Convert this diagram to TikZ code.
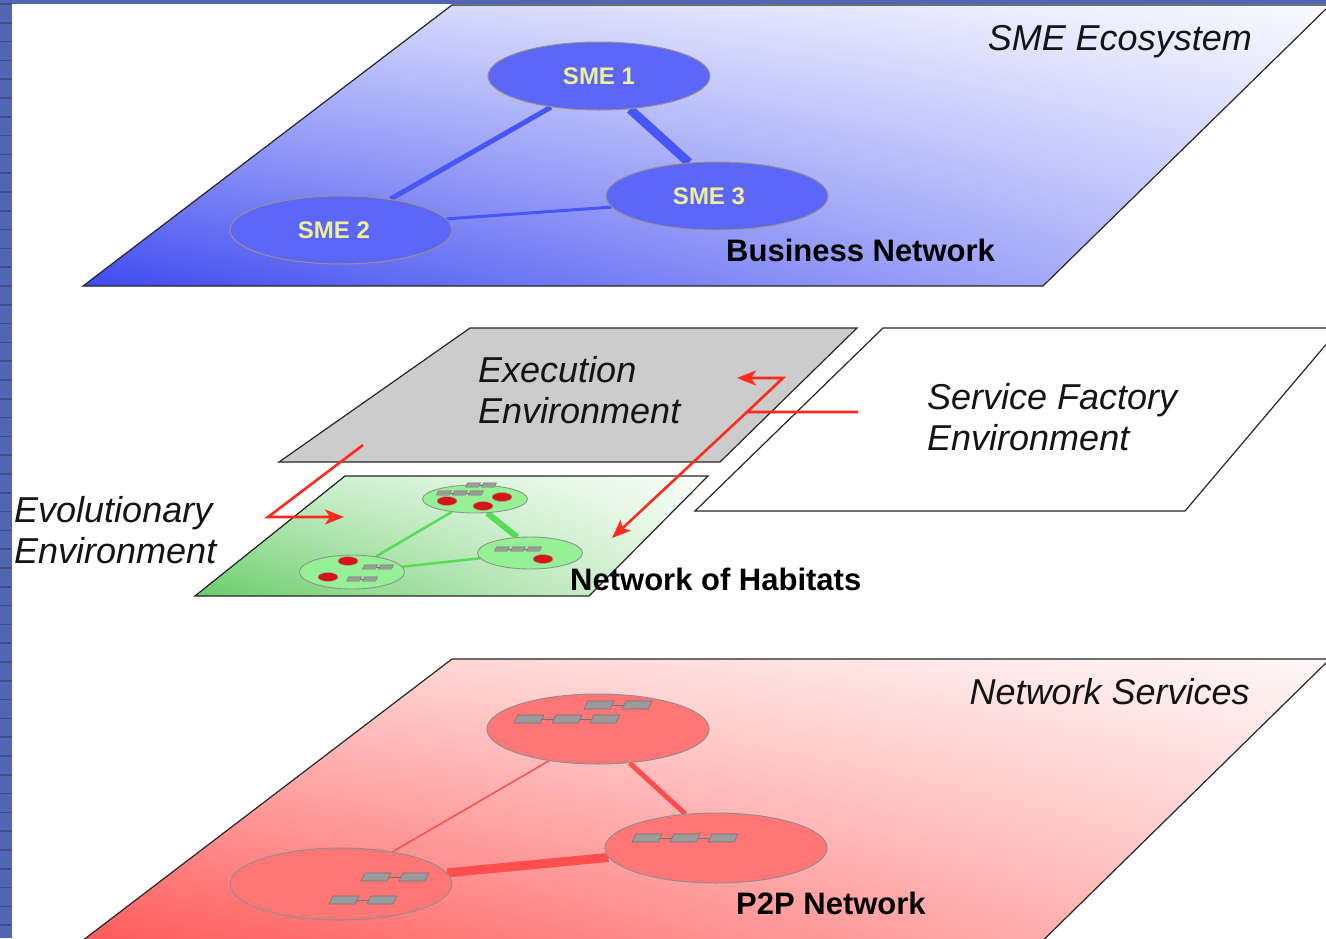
\documentclass[tikz,border=0pt]{standalone}
\usepackage{fontspec}
\setmainfont{Liberation Sans}
\usetikzlibrary{shapes.geometric,arrows.meta,shadings}
\pgfdeclarelayer{planes}
\pgfdeclarelayer{links}
\pgfsetlayers{planes,links,main}

\definecolor{stripblue}{RGB}{80,102,180}
\definecolor{stripline}{RGB}{70,78,125}
\definecolor{smefill}{RGB}{92,102,250}
\definecolor{smeedge}{RGB}{150,145,140}
\definecolor{smelink}{RGB}{72,86,246}
\definecolor{smetext}{RGB}{240,240,150}
\definecolor{peerfill}{RGB}{255,118,118}
\definecolor{peeredge}{RGB}{150,140,140}
\definecolor{peerlink}{RGB}{255,78,78}
\definecolor{habfill}{RGB}{150,240,150}
\definecolor{habedge}{RGB}{140,150,140}
\definecolor{hablink}{RGB}{85,222,85}
\definecolor{celldot}{RGB}{214,22,22}
\definecolor{srvfill}{RGB}{155,155,155}
\definecolor{srvedge}{RGB}{115,115,115}
\definecolor{flowred}{RGB}{255,42,30}
\definecolor{execgray}{RGB}{204,204,204}
% plane gradient corners
\definecolor{bluell}{RGB}{62,74,240}
\definecolor{bluelr}{RGB}{190,194,250}
\definecolor{blueul}{RGB}{200,204,252}
\definecolor{blueur}{RGB}{250,250,255}
\definecolor{greenll}{RGB}{105,205,105}
\definecolor{greenlr}{RGB}{225,245,225}
\definecolor{greenul}{RGB}{195,236,195}
\definecolor{greenur}{RGB}{248,253,248}
\definecolor{redll}{RGB}{255,80,80}
\definecolor{redlr}{RGB}{255,192,192}
\definecolor{redul}{RGB}{255,200,200}
\definecolor{redur}{RGB}{255,248,248}

% one file-server glyph, large and small
\tikzset{
  bigsrv/.pic={\filldraw[fill=srvfill,draw=srvedge,line width=0.6pt]
      (-11,-4) -- (15,-4) -- (11,4) -- (-15,4) -- cycle;},
  smallsrv/.pic={\filldraw[fill=srvfill,draw=srvedge,line width=0.4pt]
      (-5.5,-2.2) -- (7.5,-2.2) -- (5.5,2.2) -- (-7.5,2.2) -- cycle;},
}
% a row of linked servers: first centre x, y, count
\newcommand\bigrow[3]{%
  \draw[srvedge,line width=1pt] (#1,#2) -- ({#1+38*(#3-1)},#2);
  \foreach \i in {1,...,#3} \pic at ({#1+38*(\i-1)},#2) {bigsrv};}
\newcommand\smallrow[3]{%
  \draw[srvedge,line width=0.6pt] (#1,#2) -- ({#1+16*(#3-1)},#2);
  \foreach \i in {1,...,#3} \pic at ({#1+16*(\i-1)},#2) {smallsrv};}

\begin{document}
\begin{tikzpicture}[x=1pt,y=-1pt,
  sheet/.style={draw=black!85,line width=1.2pt},
  sme/.style={ellipse,draw=smeedge,line width=1pt,fill=smefill,
    minimum width=222pt,minimum height=68pt,inner sep=0pt,text=smetext,
    font=\bfseries\fontsize{24}{24}\selectfont},
  peer/.style={ellipse,draw=peeredge,line width=1pt,fill=peerfill,
    minimum width=222pt,minimum height=70pt,inner sep=0pt},
  hab/.style={ellipse,draw=habedge,line width=0.9pt,fill=habfill,
    minimum width=105pt,minimum height=30pt,inner sep=0pt},
  cell/.style={ellipse,draw=gray!70,line width=0.5pt,fill=celldot,
    minimum width=20pt,minimum height=9pt,inner sep=0pt},
  lbl/.style={font=\itshape\fontsize{36}{36}\selectfont,text=black!92,inner sep=0pt},
  netlbl/.style={font=\bfseries\fontsize{31}{31}\selectfont,text=black,inner sep=0pt},
  redflow/.style={draw=flowred,line width=2.6pt},
  tipr/.style={-{Stealth[length=19pt,width=15pt,inset=5pt]}},
]
\useasboundingbox (0,0) rectangle (1326,938);

% ---------- the four planes ----------
\begin{pgfonlayer}{planes}
  \fill[white] (0,0) rectangle (1326,938);
  % SME ecosystem
  \shade[lower left=bluell,lower right=bluelr,upper left=blueul,upper right=blueur]
    (83,286) -- (452,5) -- (1330,5) -- (1043,286) -- cycle;
  \draw[sheet] (83,286) -- (452,5) -- (1330,5) -- (1043,286) -- cycle;
  % execution environment
  \fill[execgray] (279,462) -- (470,328) -- (857,328) -- (720,462) -- cycle;
  \draw[sheet] (279,462) -- (470,328) -- (857,328) -- (720,462) -- cycle;
  % service factory environment
  \draw[sheet] (695,511) -- (883,328) -- (1340,328) -- (1185,511) -- cycle;
  % evolutionary environment
  \shade[lower left=greenll,lower right=greenlr,upper left=greenul,upper right=greenur]
    (195,596) -- (345,476) -- (708,476) -- (589,596) -- cycle;
  \draw[sheet] (195,596) -- (345,476) -- (708,476) -- (589,596) -- cycle;
  % network services (runs past the lower edge)
  \shade[lower left=redll,lower right=redlr,upper left=redul,upper right=redur]
    (57,960) -- (452,659) -- (1330,659) -- (1023,960) -- cycle;
  \draw[sheet] (57,960) -- (452,659) -- (1330,659) -- (1023,960) -- cycle;
\end{pgfonlayer}

% ---------- business network ----------
\node[sme] (sme1) at (599,76) {SME 1};
\node[sme] (sme2) at (341,230) {\hspace*{-14pt}SME 2};
\node[sme] (sme3) at (717,196) {\hspace*{-16pt}SME 3};
\begin{pgfonlayer}{links}
  \draw[smelink,line width=5pt] (sme1.213) -- (sme2.32);
  \draw[smelink,line width=9pt] (sme1.-47) -- (sme3.130);
  \draw[smelink,line width=3pt] (sme2.6) -- (sme3.186);
\end{pgfonlayer}
\node[lbl,anchor=base east] (ecolbl) at (1252,50) {SME Ecosystem};
\node[netlbl,anchor=base west] (bizlbl) at (726,261) {Business Network};

% ---------- execution / service factory labels ----------
\node[lbl,anchor=base west] (exec1) at (478,382) {Execution};
\node[lbl,anchor=base west] (exec2) at (478,423) {Environment};
\node[lbl,anchor=base west] (fact1) at (927,409) {Service Factory};
\node[lbl,anchor=base west] (fact2) at (927,450) {Environment};
\node[lbl,anchor=base west] (evo1) at (14,522) {Evolutionary};
\node[lbl,anchor=base west] (evo2) at (14,563) {Environment};

% ---------- network of habitats ----------
\node[hab,minimum height=28pt] (h1) at (475,499) {};
\node[hab,minimum height=32pt] (h2) at (530,553) {};
\node[hab,minimum height=34pt] (h3) at (352,572) {};
\begin{pgfonlayer}{links}
  \draw[hablink,line width=2.5pt] (h1.209) -- (h3.33);
  \draw[hablink,line width=6pt] (h1.-49) -- (h2.129);
  \draw[hablink,line width=2.5pt] (h3.6) -- (h2.186);
\end{pgfonlayer}
\smallrow{444}{493}{3}
\smallrow{473}{485}{2}
\smallrow{502}{549}{3}
\smallrow{370}{567}{2}
\smallrow{354}{579}{2}
\node[cell] (c1) at (447,501) {};
\node[cell] (c2) at (483,506) {};
\node[cell] (c3) at (502,497) {};
\node[cell] (c4) at (543,559) {};
\node[cell] (c5) at (348,561) {};
\node[cell] (c6) at (328,577) {};
\node[netlbl,anchor=base west] (hablbl) at (570,590) {Network of Habitats};

% ---------- P2P network ----------
\node[peer] (p1) at (598,729) {};
\node[peer,minimum height=72pt] (p2) at (341,884) {};
\node[peer] (p3) at (716,848) {};
\begin{pgfonlayer}{links}
  \draw[peerlink,line width=1.5pt] (p1.213) -- (p2.32);
  \draw[peerlink,line width=5pt] (p1.-47) -- (p3.132);
  \draw[peerlink,line width=9pt] (p2.6) -- (p3.185);
\end{pgfonlayer}
\bigrow{529}{719}{3}
\bigrow{599}{705}{2}
\bigrow{647}{838}{3}
\bigrow{376}{877}{2}
\bigrow{344}{900}{2}
\node[lbl,anchor=base east] (svclbl) at (1250,704) {Network Services};
\node[netlbl,anchor=base west] (p2plbl) at (736,914) {P2P Network};

% ---------- red flows ----------
\coordinate (ev1) at (363,445);
\coordinate (ev2) at (268,517);
\coordinate (ev3) at (344,517);
\draw[redflow,tipr] (ev1) -- (ev2) -- (ev3);
\coordinate (sf0) at (858,412);
\coordinate (sfj) at (747,412);
\coordinate (sfe) at (612,538);
\coordinate (sfk) at (783,378);
\coordinate (sft) at (737,378);
\draw[redflow,tipr] (sf0) -- (sfj) -- (sfe);
\draw[redflow,tipr] (sfj) -- (sfk) -- (sft);

% ---------- slide frame ----------
\fill[stripblue] (0,0) rectangle (1326,4);
\fill[stripblue] (0,0) rectangle (12,938);
\foreach \k in {0,...,49}
  \draw[stripline,line width=1.6pt] (0,{4+18.8*\k}) -- (12,{4+18.8*\k});
\end{tikzpicture}
\end{document}
